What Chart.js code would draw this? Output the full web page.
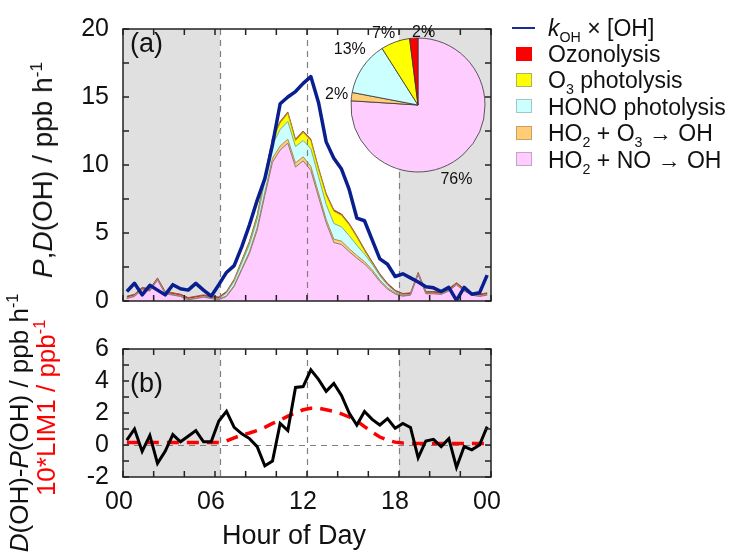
<!DOCTYPE html>
<html>
<head>
<meta charset="utf-8">
<script src="https://cdn.jsdelivr.net/npm/chart.js@4.4.0/dist/chart.umd.min.js"></script>
<style>
  body { margin: 0; background: #fff; }
  #wrap { position: relative; width: 734px; height: 552px; overflow: hidden; font-family: 'Liberation Sans', Arial, sans-serif; color: #111; }
  canvas { position: absolute; }
  .txt { position: absolute; white-space: nowrap; }
  .rot { transform: translate(-50%, -50%) rotate(-90deg); }
  sub, sup { font-size: 0.62em; line-height: 0; }
  #legend { position: absolute; left: 508px; top: 15px; font-size: 23px; }
  #legend .row { display: flex; align-items: center; height: 26.4px; }
  #legend .sym { width: 40px; height: 26px; position: relative; }
  #legend .box { position: absolute; left: 8px; top: 5px; width: 16px; height: 14px; box-sizing: border-box; }
  #legend .ln { position: absolute; left: 4px; top: 12px; width: 23px; height: 2px; background: #1a2a9a; }
</style>
</head>
<body>
<div id="wrap">
  <canvas id="chartA" width="734" height="330" style="left:0;top:0"></canvas>
  <canvas id="chartB" width="734" height="232" style="left:0;top:320px"></canvas>
  <canvas id="pie" width="200" height="200" style="left:318px;top:5px"></canvas>

  <div class="txt" style="left:130px;top:28px;font-size:27px">(a)</div>
  <div class="txt" style="left:130px;top:368px;font-size:27px">(b)</div>
  <div class="txt rot" style="left:43px;top:170px;font-size:28px"><i>P</i>,<i>D</i>(OH) / ppb h<sup>-1</sup></div>
  <div class="txt rot" style="left:19px;top:423px;font-size:26px"><i>D</i>(OH)-<i>P</i>(OH) / ppb h<sup>-1</sup></div>
  <div class="txt rot" style="left:46px;top:408px;font-size:26px;color:#ff0000">10*LIM1 / ppb<sup>-1</sup></div>
  <div class="txt" style="left:294px;top:535px;font-size:27px;transform:translate(-50%,-50%)">Hour of Day</div>

  <div id="legend">
    <div class="row"><div class="sym"><div class="ln"></div></div><div><i>k</i><sub>OH</sub> × [OH]</div></div>
    <div class="row"><div class="sym"><div class="box" style="background:#ff0000"></div></div><div>Ozonolysis</div></div>
    <div class="row"><div class="sym"><div class="box" style="background:#ffff00;border:1px solid #b0b060"></div></div><div>O<sub>3</sub> photolysis</div></div>
    <div class="row"><div class="sym"><div class="box" style="background:#ccffff;border:1px solid #a0c8c8"></div></div><div>HONO photolysis</div></div>
    <div class="row"><div class="sym"><div class="box" style="background:#ffcc77;border:1px solid #c8a060"></div></div><div>HO<sub>2</sub> + O<sub>3</sub> → OH</div></div>
    <div class="row"><div class="sym"><div class="box" style="background:#ffccff;border:1px solid #c8a0c8"></div></div><div>HO<sub>2</sub> + NO → OH</div></div>
  </div>
</div>

<script>
// thời gian (giờ), mỗi nửa giờ
var hours = [0.25, 0.75, 1.25, 1.75, 2.25, 2.75, 3.25, 3.75, 4.25, 4.75, 5.25, 5.75,
             6.25, 6.75, 7.25, 7.75, 8.25, 8.75, 9.25, 9.75, 10.25, 10.75, 11.25, 11.75,
             12.25, 12.75, 13.25, 13.75, 14.25, 14.75, 15.25, 15.75, 16.25, 16.75, 17.25, 17.75,
             18.25, 18.75, 19.25, 19.75, 20.25, 20.75, 21.25, 21.75, 22.25, 22.75, 23.25, 23.75];

// panel (a)
var kOH = [0.7, 1.3, 0.45, 1.15, 0.8, 0.45, 1.2, 0.9, 0.8, 1.3, 0.8, 0.35,
           1.2, 2.1, 2.6, 4.0, 5.6, 7.4, 9.0, 11.5, 14.5, 15.0, 15.4, 16.0,
           16.5, 14.6, 11.7, 10.5, 9.7, 8.2, 6.1, 5.9, 4.5, 3.1, 2.7, 1.8,
           2.0, 1.7, 1.4, 1.05, 0.97, 0.7, 1.0, 0.05, 1.0, 0.5, 0.6, 1.9];
var ho2no = [0.18, 0.33, 0.83, 0.73, 1.53, 0.53, 0.43, 0.33, 0.08, 0.18, 0.28, 0.18,
             0.1, 0.33, 1.07, 2.3, 3.5, 5.2, 7.75, 10.2, 11.1, 11.6, 9.85, 10.3,
             9.6, 7.65, 5.75, 4.3, 4.15, 3.63, 3.15, 2.72, 2.15, 1.43, 0.87, 0.51,
             0.35, 0.43, 1.93, 0.53, 0.53, 0.48, 0.73, 1.18, 0.73, 0.43, 0.33, 0.43];
var ho2o3 = [0.03, 0.03, 0.03, 0.03, 0.03, 0.03, 0.03, 0.03, 0.03, 0.03, 0.03, 0.03,
             0.03, 0.05, 0.08, 0.1, 0.15, 0.2, 0.25, 0.3, 0.3, 0.3, 0.3, 0.3,
             0.3, 0.3, 0.25, 0.25, 0.25, 0.22, 0.2, 0.18, 0.15, 0.12, 0.1, 0.08,
             0.05, 0.03, 0.03, 0.03, 0.03, 0.03, 0.03, 0.03, 0.03, 0.03, 0.03, 0.03];
var hono = [0.02, 0.02, 0.02, 0.02, 0.02, 0.02, 0.02, 0.02, 0.02, 0.02, 0.02, 0.02,
            0.05, 0.2, 0.3, 0.4, 0.5, 0.6, 0.8, 1.0, 1.2, 1.3, 1.2, 1.2,
            1.3, 1.2, 1.1, 1.15, 1.05, 0.95, 0.75, 0.55, 0.4, 0.3, 0.2, 0.1,
            0.05, 0.02, 0.02, 0.02, 0.02, 0.02, 0.02, 0.02, 0.02, 0.02, 0.02, 0.02];
var o3phot = [0, 0, 0, 0, 0, 0, 0, 0, 0, 0, 0, 0,
              0, 0.02, 0.05, 0.1, 0.15, 0.2, 0.3, 0.4, 0.5, 0.6, 0.45, 0.6,
              0.6, 0.55, 0.7, 0.9, 0.85, 0.8, 0.6, 0.25, 0.1, 0.05, 0.03, 0.01,
              0, 0, 0, 0, 0, 0, 0, 0, 0, 0, 0, 0];
var ozono = [0.12, 0.12, 0.12, 0.12, 0.12, 0.12, 0.12, 0.12, 0.12, 0.12, 0.12, 0.12,
             0.12, 0.1, 0.1, 0.1, 0.1, 0.1, 0.1, 0.1, 0.1, 0.1, 0.1, 0.1,
             0.1, 0.1, 0.1, 0.1, 0.1, 0.1, 0.1, 0.1, 0.1, 0.1, 0.1, 0.1,
             0.1, 0.12, 0.12, 0.12, 0.12, 0.12, 0.12, 0.12, 0.12, 0.12, 0.12, 0.12];

// panel (b)
var dMinusP = [0.3, 1.0, -0.4, 0.6, -1.15, -0.4, 0.65, 0.2, 0.55, 0.9, 0.2, 0.2,
               1.5, 2.1, 1.1, 0.7, 0.4, -0.1, -1.3, -1.0, 1.35, 0.9, 3.6, 3.65,
               4.7, 4.1, 3.35, 3.85, 3.1, 2.0, 1.25, 2.1, 1.6, 1.25, 1.65, 1.05,
               1.35, 1.1, -0.8, 0.25, 0.35, -0.1, 0.4, -1.4, -0.1, -0.3, 0.0, 1.15];
var lim1 = [0.15, 0.15, 0.15, 0.15, 0.15, 0.15, 0.15, 0.15, 0.15, 0.15, 0.15, 0.15,
            0.15, 0.25, 0.45, 0.62, 0.75, 0.9, 1.1, 1.35, 1.55, 1.8, 2.0, 2.2,
            2.3, 2.3, 2.2, 2.1, 1.95, 1.75, 1.5, 1.15, 0.8, 0.5, 0.3, 0.18,
            0.12, 0.1, 0.1, 0.1, 0.1, 0.1, 0.1, 0.1, 0.1, 0.1, 0.1, 0.1];

// pie (%), theo thứ tự: HO2+NO, HO2+O3, HONO, O3 photolysis, Ozonolysis
var pieValues = [76, 2, 13, 7, 2];

var xTickLabels = ['00', '06', '12', '18', '00'];
var nightSpans = [[0, 6.33], [18, 24]];
var dashHours = [6.33, 12, 18];

var FONT = "'Liberation Sans', Arial, sans-serif";
var colPink = '#ffccff', colOrange = '#ffcc77', colCyan = '#ccffff', colYellow = '#ffff00', colRed = '#ff0000';

function xy(vals) {
    return hours.map(function (h, i) { return { x: h, y: vals[i] }; });
}

function drawDashes(chart, opts) {
    var ctx = chart.ctx, a = chart.chartArea, x = chart.scales.x, y = chart.scales.y;
    ctx.save();
    ctx.strokeStyle = '#808080';
    ctx.lineWidth = 1.2;
    ctx.setLineDash([6, 5]);
    ctx.beginPath();
    dashHours.forEach(function (h) {
        var px = Math.round(x.getPixelForValue(h)) + 0.5;
        ctx.moveTo(px, a.top); ctx.lineTo(px, a.bottom);
    });
    if (opts.zeroLine) {
        var py = Math.round(y.getPixelForValue(0)) + 0.5;
        ctx.moveTo(a.left, py); ctx.lineTo(a.right, py);
    }
    ctx.stroke();
    ctx.restore();
}

// nền xám ban đêm + đường nét đứt
var shadePlugin = {
    id: 'shade',
    beforeDatasetsDraw: function (chart, args, opts) {
        var ctx = chart.ctx, a = chart.chartArea, x = chart.scales.x;
        ctx.save();
        ctx.fillStyle = '#e0e0e0';
        nightSpans.forEach(function (s) {
            var x0 = x.getPixelForValue(s[0]), x1 = x.getPixelForValue(s[1]);
            ctx.fillRect(x0, a.top, x1 - x0, a.bottom - a.top);
        });
        ctx.restore();
        if (opts.dashAfter == null) drawDashes(chart, opts);
    },
    afterDatasetDraw: function (chart, args, opts) {
        if (opts.dashAfter != null && args.index === opts.dashAfter) drawDashes(chart, opts);
    }
};

// khung + vạch chia hướng vào trong
var framePlugin = {
    id: 'frame',
    afterDraw: function (chart, args, opts) {
        var ctx = chart.ctx, a = chart.chartArea, x = chart.scales.x, y = chart.scales.y;
        var t = 6, v;
        ctx.save();
        ctx.strokeStyle = '#222';
        ctx.lineWidth = 1.5;
        ctx.beginPath();
        for (v = x.min; v <= x.max + 1e-9; v += opts.xStep) {
            var px = x.getPixelForValue(v);
            ctx.moveTo(px, a.bottom); ctx.lineTo(px, a.bottom - t);
            ctx.moveTo(px, a.top); ctx.lineTo(px, a.top + t);
        }
        for (v = y.min; v <= y.max + 1e-9; v += opts.yStep) {
            var py = y.getPixelForValue(v);
            ctx.moveTo(a.left, py); ctx.lineTo(a.left + t, py);
            ctx.moveTo(a.right, py); ctx.lineTo(a.right - t, py);
        }
        ctx.stroke();
        ctx.strokeRect(a.left, a.top, a.right - a.left, a.bottom - a.top);
        ctx.restore();
    }
};

// nhãn phần trăm quanh biểu đồ tròn
var pieShift = [16, 0, 5, -6, 8];
var pieOffset = [17, 15, 21, 12, 6];
var pieLabelPlugin = {
    id: 'pieLabels',
    afterDatasetsDraw: function (chart) {
        var ctx = chart.ctx;
        var meta = chart.getDatasetMeta(0);
        ctx.save();
        ctx.font = '16px ' + FONT;
        ctx.fillStyle = '#111';
        ctx.textAlign = 'center';
        ctx.textBaseline = 'middle';
        meta.data.forEach(function (arc, i) {
            var p = arc.getProps(['startAngle', 'endAngle', 'outerRadius', 'x', 'y'], true);
            var mid = (p.startAngle + p.endAngle) / 2 + pieShift[i] * Math.PI / 180;
            var r = p.outerRadius + pieOffset[i];
            ctx.fillText(pieValues[i] + '%', p.x + Math.cos(mid) * r, p.y + Math.sin(mid) * r);
        });
        ctx.restore();
    }
};

function yFit(scale) { scale.width = 123; }

var tickFont = { family: FONT, size: 25 };

// ===== panel (a) =====
var areaBase = { pointRadius: 0, borderWidth: 1, tension: 0, stack: 'p' };
new Chart(document.getElementById('chartA').getContext('2d'), {
    type: 'line',
    data: {
        datasets: [
            { label: 'kOH x [OH]', data: xy(kOH), borderColor: '#0a1f8f', borderWidth: 3.5, pointRadius: 0, fill: false, stack: 'k', borderJoinStyle: 'round' },
            Object.assign({ label: 'HO2 + NO', data: xy(ho2no), backgroundColor: colPink, borderColor: '#8a7a7a', fill: 'origin' }, areaBase),
            Object.assign({ label: 'HO2 + O3', data: xy(ho2o3), backgroundColor: colOrange, borderColor: '#b08a50', fill: '-1' }, areaBase),
            Object.assign({ label: 'HONO', data: xy(hono), backgroundColor: colCyan, borderColor: '#7aa8a8', fill: '-1' }, areaBase),
            Object.assign({ label: 'O3 photolysis', data: xy(o3phot), backgroundColor: colYellow, borderColor: '#a8a000', fill: '-1' }, areaBase),
            Object.assign({ label: 'Ozonolysis', data: xy(ozono), backgroundColor: colRed, borderColor: '#a05050', fill: '-1' }, areaBase)
        ]
    },
    options: {
        responsive: false,
        animation: false,
        devicePixelRatio: 1,
        layout: { padding: { left: 0, right: 243, top: 17, bottom: 25 } },
        scales: {
            x: { type: 'linear', min: 0, max: 24, display: false },
            y: {
                stacked: true, min: 0, max: 20,
                grid: { display: false, drawTicks: false },
                border: { display: false },
                ticks: { stepSize: 5, autoSkip: false, font: tickFont, color: '#111', padding: 14 },
                afterFit: yFit
            }
        },
        plugins: {
            legend: { display: false },
            tooltip: { enabled: false },
            shade: { dashAfter: 1 },
            frame: { xStep: 2, yStep: 2.5 }
        }
    },
    plugins: [shadePlugin, framePlugin]
});

// ===== panel (b) =====
new Chart(document.getElementById('chartB').getContext('2d'), {
    type: 'line',
    data: {
        datasets: [
            { label: 'D(OH)-P(OH)', data: xy(dMinusP), borderColor: '#000', borderWidth: 3, pointRadius: 0, fill: false },
            { label: '10*LIM1', data: xy(lim1), borderColor: '#ff0000', borderWidth: 3.5, borderDash: [12, 8], pointRadius: 0, fill: false }
        ]
    },
    options: {
        responsive: false,
        animation: false,
        devicePixelRatio: 1,
        layout: { padding: { left: 0, right: 243, top: 21, bottom: 0 } },
        scales: {
            x: {
                type: 'linear', min: 0, max: 24,
                grid: { display: false, drawTicks: false },
                border: { display: false },
                ticks: {
                    stepSize: 6, autoSkip: false, font: tickFont, color: '#111', padding: 10, labelOffset: -4, maxRotation: 0,
                    callback: function (value) { return xTickLabels[value / 6]; }
                },
                afterFit: function (scale) { scale.height = 75; }
            },
            y: {
                min: -2, max: 6,
                grid: { display: false, drawTicks: false },
                border: { display: false },
                ticks: { stepSize: 2, autoSkip: false, font: tickFont, color: '#111', padding: 14 },
                afterFit: yFit
            }
        },
        plugins: {
            legend: { display: false },
            tooltip: { enabled: false },
            shade: { zeroLine: true },
            frame: { xStep: 2, yStep: 1 }
        }
    },
    plugins: [shadePlugin, framePlugin]
});

// ===== pie =====
new Chart(document.getElementById('pie').getContext('2d'), {
    type: 'pie',
    data: {
        labels: ['HO2 + NO', 'HO2 + O3', 'HONO', 'O3 photolysis', 'Ozonolysis'],
        datasets: [{
            data: pieValues,
            backgroundColor: [colPink, colOrange, colCyan, colYellow, colRed],
            borderColor: '#333',
            borderWidth: 0.8,
            radius: 67
        }]
    },
    options: {
        responsive: false,
        animation: false,
        devicePixelRatio: 1,
        plugins: { legend: { display: false }, tooltip: { enabled: false } }
    },
    plugins: [pieLabelPlugin]
});
</script>
</body>
</html>
